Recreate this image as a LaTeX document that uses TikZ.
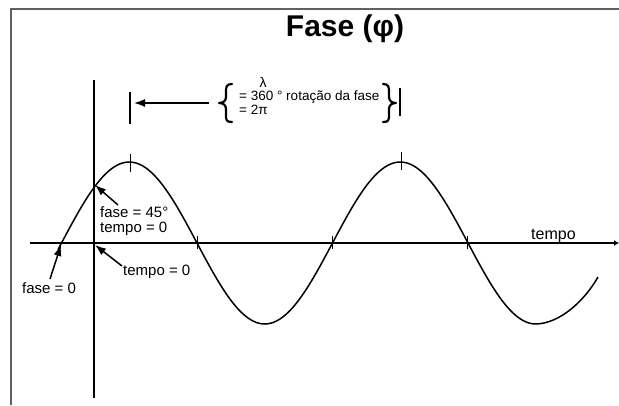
\documentclass[tikz,border=0pt]{standalone}
\usepackage{fontspec}
\setmainfont{Liberation Sans}
\usetikzlibrary{arrows.meta}
\begin{document}
\begin{tikzpicture}[x=1pt,y=-1pt,
  frameline/.style={draw=black!62, line width=1.8pt},
  axisline/.style={line width=1.1pt},
  wave/.style={line width=1.5pt},
  tickmark/.style={line width=1pt},
  bracepath/.style={line width=2.2pt, line cap=round, line join=round},
  pointer/.style={line width=1.5pt, -{Latex[length=11pt,width=8pt]}},
  lbl/.style={font=\fontsize{15}{15}\selectfont, inner sep=0pt, anchor=base west},
  small/.style={font=\fontsize{13.5}{11.5}\selectfont, inner sep=0pt, align=left, anchor=base west}]
\useasboundingbox (0,0) rectangle (619,405);
% frame
\draw[frameline] (619,9) -- (11,9) -- (11,405);
% title
\node[font=\fontsize{30}{30}\selectfont\bfseries, inner sep=0pt, anchor=base] (title) at (345,36) {Fase (φ)};
% axes
\coordinate (vtop) at (94,80);
\coordinate (vbot) at (94,398);
\coordinate (hleft) at (30,243);
\coordinate (hright) at (619,243);
\draw[axisline] (vtop) -- (vbot);
\draw[axisline, -{Latex[length=5pt,width=6pt]}] (hleft) -- (hright);
\node[font=\fontsize{16}{16}\selectfont, inner sep=0pt, anchor=base west] (tempoaxis) at (531,239) {tempo};
% wave
\draw[wave] plot[domain=58:535, samples=160, smooth] (\x, {243-81*sin(1.328413*(\x-61.5))})
  .. controls (560,324) and (585,300) .. (598,277);
% ticks on peaks and crossings
\draw[tickmark] (130,154) -- (130,172);
\draw[tickmark] (401,152) -- (401,170);
\draw[tickmark] (197,236) -- (197,249);
\draw[tickmark] (332,236) -- (332,249);
\draw[tickmark] (467,236) -- (467,249);
% wavelength marker
\draw[tickmark, line width=1.2pt] (130,92) -- (130,124);
\draw[tickmark, line width=1.2pt] (400,88) -- (400,116);
\coordinate (lamtail) at (209,103);
\coordinate (lamtip) at (134,103);
\draw[pointer] (lamtail) -- (lamtip);
\draw[bracepath] (232,84) .. controls (226,84) and (226,87) .. (226,93) -- (226,97)
  .. controls (226,101) and (223,103) .. (219,103)
  .. controls (223,103) and (226,105) .. (226,109) -- (226,114)
  .. controls (226,120) and (226,122) .. (232,122);
\draw[bracepath] (383,84) .. controls (389,84) and (389,87) .. (389,93) -- (389,97)
  .. controls (389,101) and (392,103) .. (396,103)
  .. controls (392,103) and (389,105) .. (389,109) -- (389,114)
  .. controls (389,120) and (389,122) .. (383,122);
\node[font=\fontsize{14}{14}\selectfont, inner sep=0pt, anchor=base] (lambda) at (263,87) {λ};
\node[small] (rot) at (239,114) {= 360 ° rotação da fase\\= 2π};
% labels and pointers
\node[lbl] (f45) at (100,217) {fase = 45°};
\node[lbl] (t0a) at (100,232) {tempo = 0};
\node[lbl] (t0b) at (123,275) {tempo = 0};
\node[lbl] (f0) at (22,293) {fase = 0};
\coordinate (p45) at (95,185);
\coordinate (p45tail) at (118,205);
\coordinate (porig) at (95,245);
\coordinate (porigtail) at (122,266);
\coordinate (pzero) at (61,245);
\coordinate (pzerotail) at (50,279);
\draw[pointer] (p45tail) -- (p45);
\draw[pointer] (porigtail) -- (porig);
\draw[pointer] (pzerotail) -- (pzero);
\end{tikzpicture}
\end{document}
